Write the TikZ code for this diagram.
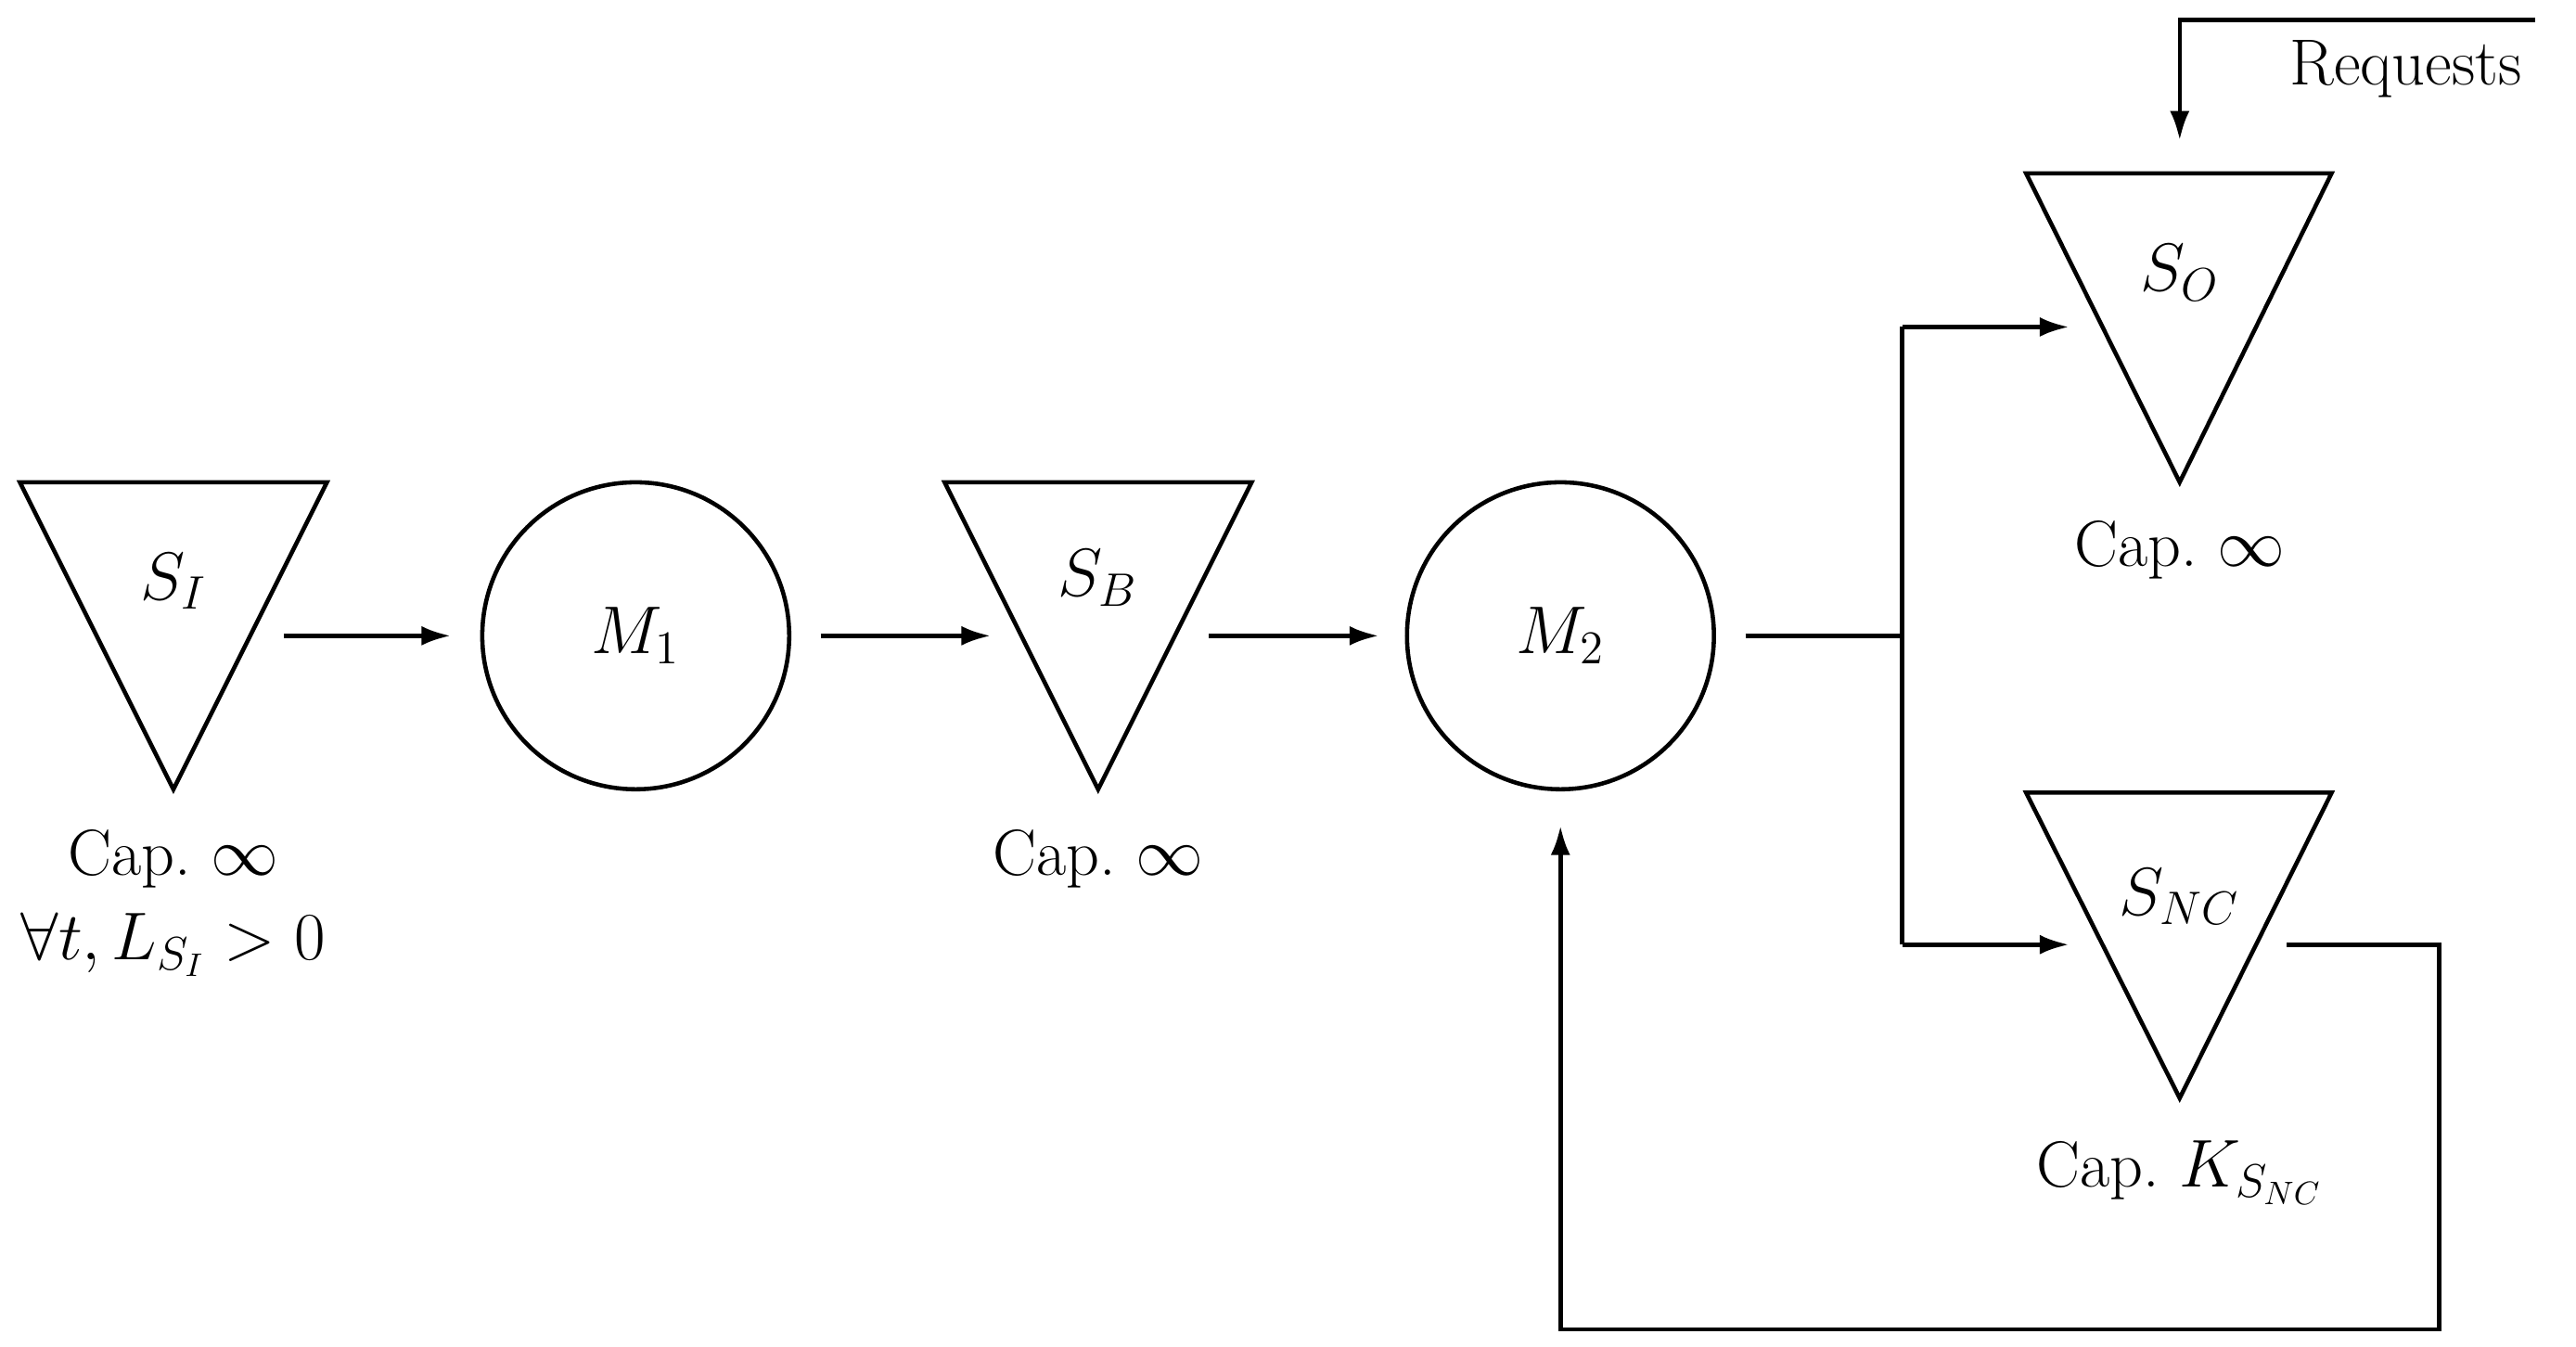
\documentclass[tikz,border=0pt]{standalone}
\usetikzlibrary{arrows.meta}
\begin{document}
\begin{tikzpicture}[x=0.0178cm,y=-0.0178cm,
  every path/.style={line width=1.3pt},
  arr/.style={-{Latex[length=9pt,width=6pt]}},
  lbl/.style={font=\fontsize{20}{24}\selectfont, inner sep=0pt},
  tri/.style={line width=1.3pt, line join=miter}]
\useasboundingbox (0,0) rectangle (1560,815.6);
% triangles
\draw[tri] (12,292) -- (198,292) -- (105,478) -- cycle;
\draw[tri] (572,292) -- (758,292) -- (665,478) -- cycle;
\draw[tri] (1227,105) -- (1412,105) -- (1320,292) -- cycle;
\draw[tri] (1227,480) -- (1412,480) -- (1320,665) -- cycle;
\node[lbl] (si) at (105,352) {$S_I$};
\node[lbl] (sb) at (665,350) {$S_B$};
\node[lbl] (so) at (1320,165) {$S_O$};
\node[lbl] (snc) at (1320,543) {$S_{NC}$};
% circles
\node[circle,draw,minimum size=186\pgflinewidth,inner sep=0pt,line width=1.3pt,minimum size=3.31cm] (m1) at (385,385) {};
\node[circle,draw,inner sep=0pt,line width=1.3pt,minimum size=3.31cm] (m2) at (945,385) {};
\node[lbl] at (m1) {$M_1$};
\node[lbl] at (m2) {$M_2$};
% captions
\node[lbl] (c1) at (105,520) {Cap.\ $\infty$};
\node[lbl] (c1b) at (105,572) {$\forall t, L_{S_I} > 0$};
\node[lbl] (c2) at (665,520) {Cap.\ $\infty$};
\node[lbl] (c3) at (1320,333) {Cap.\ $\infty$};
\node[lbl] (c4) at (1320,710) {Cap.\ $K_{S_{NC}}$};
\node[lbl] (req) at (1457,42) {Requests};
% coordinates
\coordinate (a1) at (172,385); \coordinate (a2) at (273,385);
\coordinate (b1) at (497,385); \coordinate (b2) at (600,385);
\coordinate (d1) at (732,385); \coordinate (d2) at (835,385);
\coordinate (e1) at (1057,385); \coordinate (j) at (1152,385);
\coordinate (jt) at (1152,198); \coordinate (jb) at (1152,572);
\coordinate (ot) at (1253,198); \coordinate (ob) at (1253,572);
\coordinate (f1) at (1385,572); \coordinate (f2) at (945,500);
\coordinate (r1) at (1535,12); \coordinate (r2) at (1320,85);
\draw[arr] (a1) -- (a2);
\draw[arr] (b1) -- (b2);
\draw[arr] (d1) -- (d2);
\draw (e1) -- (j);
\draw (jt) -- (jb);
\draw[arr] (jt) -- (ot);
\draw[arr] (jb) -- (ob);
\draw[arr] (f1) -- (1477,572) -- (1477,805) -- (945,805) -- (f2);
\draw[arr] (r1) -- (1320,12) -- (r2);
\end{tikzpicture}
\end{document}
